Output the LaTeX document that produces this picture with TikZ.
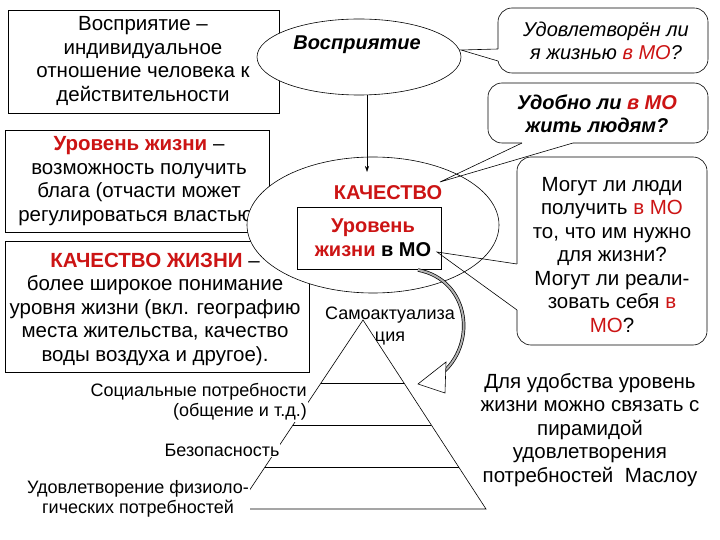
\documentclass[tikz,border=0pt]{standalone}
\usepackage{fontspec}
\setmainfont{Liberation Sans}
\usetikzlibrary{shapes.geometric,arrows.meta}
\definecolor{rd}{RGB}{204,20,20}
\begin{document}
\begin{tikzpicture}[x=1pt,y=-1pt,
  txt/.style={font=\fontsize{20.5}{23.5}\selectfont,align=center},
  box/.style={draw,fill=white,line width=0.6pt},
  call/.style={draw,fill=white,rounded corners=14pt,line width=0.6pt},
  lbl/.style={font=\fontsize{18}{20.5}\selectfont,fill=white,inner sep=1pt}]
\useasboundingbox (0,0) rectangle (720,540);
% left boxes
\draw[box] (8,10) rectangle (279,113);
\node[txt] (t1) at (143,61) {Восприятие –\\индивидуальное\\отношение человека к\\действительности};
\draw[box] (5,241) rectangle (309,372);
\node[txt] (t4) at (155,309) {\textcolor{rd}{\textbf{КАЧЕСТВО ЖИЗНИ}} –\\более широкое понимание\\уровня жизни (вкл. географию\\места жительства, качество\\воды воздуха и другое).};
\draw[box] (5,130) rectangle (269,232);
\node[txt] (t2) at (139,181) {\textcolor{rd}{\textbf{Уровень жизни}} –\\возможность получить\\блага (отчасти может\\регулироваться властью)};
% ellipses
\node[draw,ellipse,fill=white,minimum width=204,minimum height=76,line width=0.6pt] (e1) at (359,57) {};
\node[font=\fontsize{20}{22}\selectfont\bfseries\itshape] at (357,45) {Восприятие};
\node[draw,ellipse,fill=white,minimum width=252,minimum height=136,line width=0.6pt] (e2) at (373,225) {};
\draw[-{Stealth[length=6pt,width=4pt]},line width=0.6pt] (367,95) -- (367,172);
\node[font=\fontsize{20}{22}\selectfont\bfseries,text=rd] at (388,193) {КАЧЕСТВО};
\draw[box] (297,207) rectangle (441,269);
\node[txt,font=\fontsize{20}{24}\selectfont\bfseries] (t3) at (373,238) {\textcolor{rd}{Уровень}\\\textcolor{rd}{жизни} в МО};
% pyramid
\node[align=center,font=\fontsize{18}{22}\selectfont] at (390,326) {Самоактуализа\\ция};
\draw[line width=0.6pt] (363,320) -- (237,509) -- (486,509) -- cycle;
\foreach \y in {383,425,467} \draw[line width=0.6pt] ({363-0.667*(\y-320)},\y) -- ({363+0.651*(\y-320)},\y);
\node[lbl,align=right,anchor=east] at (308,402) {Социальные потребности\\(общение и т.д.)};
\node[lbl] at (222,450) {Безопасность};
\node[lbl,align=center] at (138,499) {Удовлетворение физиоло-\\гических потребностей};
% curved arrow
\draw[line width=3.4pt] (418,270) .. controls (470,280) and (478,345) .. (440,375);
\draw[line width=2pt,gray!60] (418,270) .. controls (470,280) and (478,345) .. (440,375);
\draw[fill=white,line width=0.6pt] (446,362) -- (418,384) -- (445,393) -- cycle;
% callouts
\draw[call] (498,8) rectangle (708,73);
\draw[fill=white,draw=none] (496,49) rectangle (500,61);
\draw[line width=0.6pt] (498,49) -- (461,50) -- (498,61);
\node[txt,font=\fontsize{20}{23.5}\selectfont\itshape] (c1) at (606,41) {Удовлетворён ли\\я жизнью \textcolor{rd}{в МО}?};
\draw[call] (488,83) rectangle (708,143);
\draw[fill=white,draw=none] (522,141) rectangle (573,145);
\draw[line width=0.6pt] (522,143) -- (440,182) -- (573,143);
\node[txt,font=\fontsize{20}{23.5}\selectfont\bfseries\itshape] (c2) at (597,114) {Удобно ли \textcolor{rd}{в МО}\\жить людям?};
\draw[call] (517,157) rectangle (707,345);
\draw[fill=white,draw=none] (515,264) rectangle (519,310);
\draw[line width=0.6pt] (517,264) -- (437,252) -- (517,310);
\node[txt] (c3) at (612,255) {Могут ли люди\\получить \textcolor{rd}{в МО}\\то, что им нужно\\для жизни?\\Могут ли реали-\\зовать себя \textcolor{rd}{в}\\\textcolor{rd}{МО}?};
\node[txt] (b) at (590,430) {Для удобства уровень\\жизни можно связать с\\пирамидой\\удовлетворения\\потребностей\ \ Маслоу};
\end{tikzpicture}
\end{document}
